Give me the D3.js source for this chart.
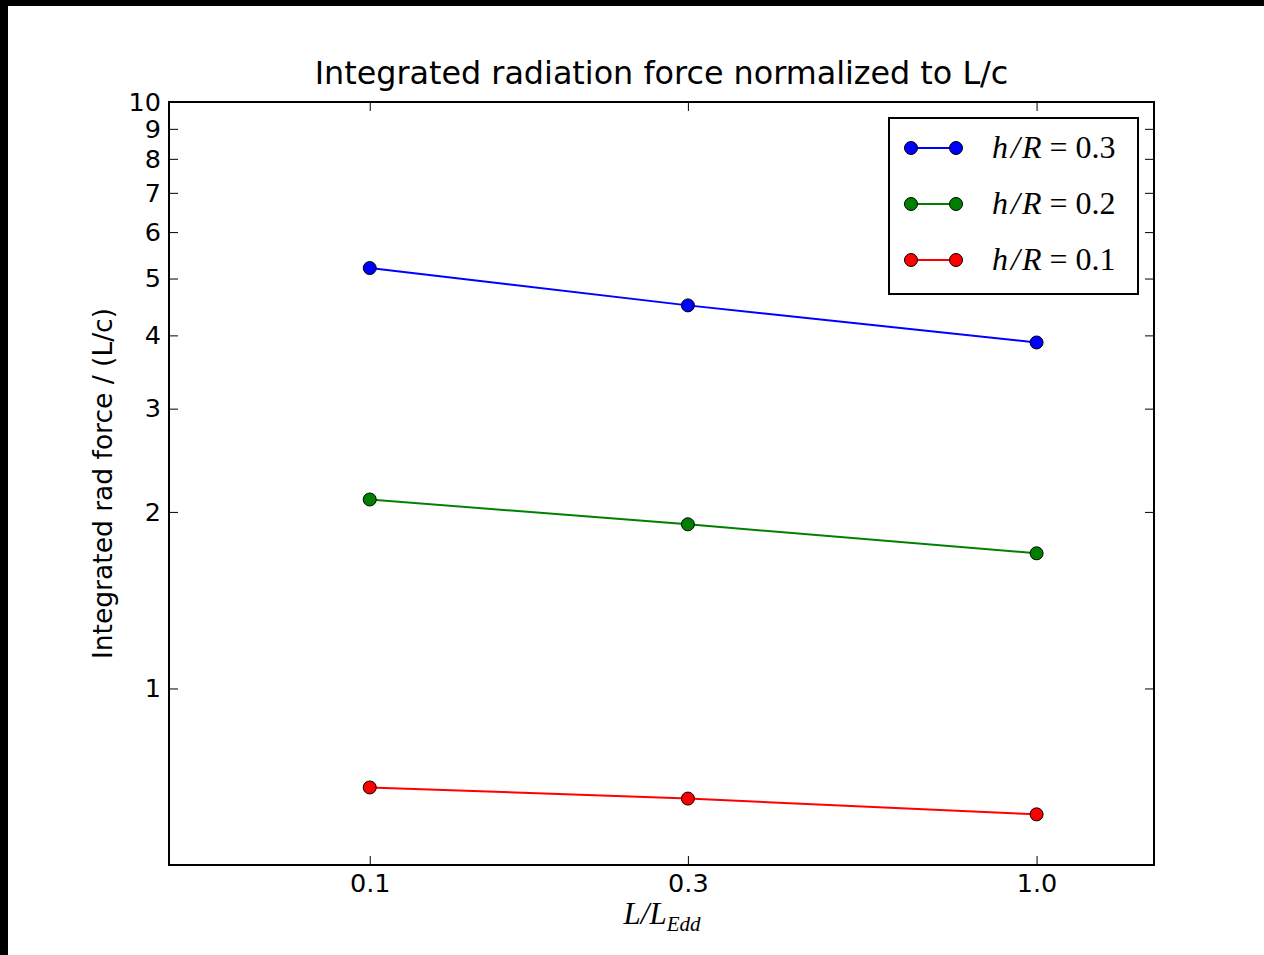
<!DOCTYPE html>
<html lang="en">
<head>
    <meta charset="UTF-8">
    <title>Integrated radiation force normalized to L/c</title>
    <script src="https://cdnjs.cloudflare.com/ajax/libs/d3/7.8.5/d3.min.js"></script>
    <style>
        body { margin: 0; background: #000; }
        #chart { position: absolute; left: 8px; top: 6px; }
        .tick-label { font-family: "DejaVu Sans", sans-serif; font-size: 25.5px; fill: #000; }
        .math { font-family: "Liberation Serif", "DejaVu Serif", serif; }
    </style>
</head>
<body>
    <div id="chart"></div>

    <script>
        // Data
        const xValues = [0.1, 0.3, 1.0];
        const xTickLabels = ["0.1", "0.3", "1.0"];
        const yTicks = [1, 2, 3, 4, 5, 6, 7, 8, 9, 10];
        const seriesNames = ["0.3", "0.2", "0.1"];
        const seriesColors = ["#0000ff", "#008000", "#ff0000"];
        const hr03 = [5.21, 4.50, 3.89];
        const hr02 = [2.10, 1.905, 1.70];
        const hr01 = [0.678, 0.649, 0.610];
        const seriesValues = [hr03, hr02, hr01];

        // Page coordinates are offset by the black border (8, 6)
        const W = 1256, H = 949;
        const plot = { left: 161, top: 96, right: 1146, bottom: 859 };

        const svg = d3.select("#chart").append("svg")
            .attr("width", W)
            .attr("height", H)
            .style("display", "block");

        svg.append("rect").attr("width", W).attr("height", H).attr("fill", "#fff");

        const x = d3.scaleLog().domain([0.05, 1.5]).range([plot.left, plot.right]);
        const y = d3.scaleLog().domain([0.5, 10]).range([plot.bottom, plot.top]);

        // title
        svg.append("text")
            .attr("x", (plot.left + plot.right) / 2)
            .attr("y", 78)
            .attr("text-anchor", "middle")
            .attr("font-family", "DejaVu Sans, sans-serif")
            .attr("font-size", 31.8)
            .text("Integrated radiation force normalized to L/c");

        // axes: ticks point inwards on all four sides
        const tickLen = 9;
        const axisLeft = d3.axisLeft(y).tickValues(yTicks).tickSize(-tickLen).tickPadding(8).tickFormat(d3.format("d"));
        const axisRight = d3.axisRight(y).tickValues(yTicks).tickSize(-tickLen).tickFormat("");
        const axisBottom = d3.axisBottom(x).tickValues(xValues).tickSize(-tickLen).tickPadding(9)
            .tickFormat((d, i) => xTickLabels[i]);
        const axisTop = d3.axisTop(x).tickValues(xValues).tickSize(-tickLen).tickFormat("");

        function styleAxis(g) {
            g.select(".domain").remove();
            g.selectAll(".tick line").attr("stroke", "#000").attr("stroke-width", 1);
            g.selectAll(".tick text").attr("class", "tick-label").attr("font-size", null).attr("font-family", null);
        }

        svg.append("g").attr("transform", `translate(${plot.left},0)`).call(axisLeft).call(styleAxis);
        svg.append("g").attr("transform", `translate(${plot.right},0)`).call(axisRight).call(styleAxis);
        svg.append("g").attr("transform", `translate(0,${plot.bottom})`).call(axisBottom).call(styleAxis);
        svg.append("g").attr("transform", `translate(0,${plot.top})`).call(axisTop).call(styleAxis);

        // series
        const line = d3.line().x((d, i) => x(xValues[i])).y(d => y(d));
        seriesValues.forEach((vals, s) => {
            svg.append("path")
                .datum(vals)
                .attr("d", line)
                .attr("fill", "none")
                .attr("stroke", seriesColors[s])
                .attr("stroke-width", 2);
            svg.append("g").selectAll("circle")
                .data(vals)
                .join("circle")
                .attr("cx", (d, i) => x(xValues[i]))
                .attr("cy", d => y(d))
                .attr("r", 6.5)
                .attr("fill", seriesColors[s])
                .attr("stroke", "#000")
                .attr("stroke-width", 1);
        });

        // frame
        svg.append("rect")
            .attr("x", plot.left).attr("y", plot.top)
            .attr("width", plot.right - plot.left)
            .attr("height", plot.bottom - plot.top)
            .attr("fill", "none")
            .attr("stroke", "#000")
            .attr("stroke-width", 2);

        // y label
        svg.append("text")
            .attr("transform", `translate(104,${(plot.top + plot.bottom) / 2}) rotate(-90)`)
            .attr("text-anchor", "middle")
            .attr("font-family", "DejaVu Sans, sans-serif")
            .attr("font-size", 26.5)
            .text("Integrated rad force / (L/c)");

        // x label  L/L_Edd
        const xl = svg.append("text")
            .attr("class", "math")
            .attr("x", 654)
            .attr("y", 918)
            .attr("text-anchor", "middle")
            .attr("font-size", 31);
        xl.append("tspan").attr("font-style", "italic").text("L/L");
        xl.append("tspan").attr("font-style", "italic").attr("font-size", 21).attr("dy", 7).text("Edd");

        // legend
        const legend = svg.append("g").attr("transform", "translate(881,112)");
        legend.append("rect")
            .attr("width", 249).attr("height", 176)
            .attr("fill", "#fff").attr("stroke", "#000").attr("stroke-width", 2);
        seriesNames.forEach((name, s) => {
            const ly = 30 + s * 56;
            legend.append("line")
                .attr("x1", 22).attr("x2", 67).attr("y1", ly).attr("y2", ly)
                .attr("stroke", seriesColors[s]).attr("stroke-width", 2);
            [22, 67].forEach(cx => legend.append("circle")
                .attr("cx", cx).attr("cy", ly).attr("r", 6.5)
                .attr("fill", seriesColors[s]).attr("stroke", "#000").attr("stroke-width", 1));
            const t = legend.append("text")
                .attr("class", "math")
                .attr("x", 103).attr("y", ly + 10)
                .attr("font-size", 32);
            t.append("tspan").attr("font-style", "italic").text("h");
            t.append("tspan").attr("dx", 3).attr("font-style", "italic").text("/");
            t.append("tspan").attr("dx", 2).attr("font-style", "italic").text("R");
            t.append("tspan").attr("dx", 8).text("=");
            t.append("tspan").attr("dx", 8).text(name);
        });
    </script>
</body>
</html>
